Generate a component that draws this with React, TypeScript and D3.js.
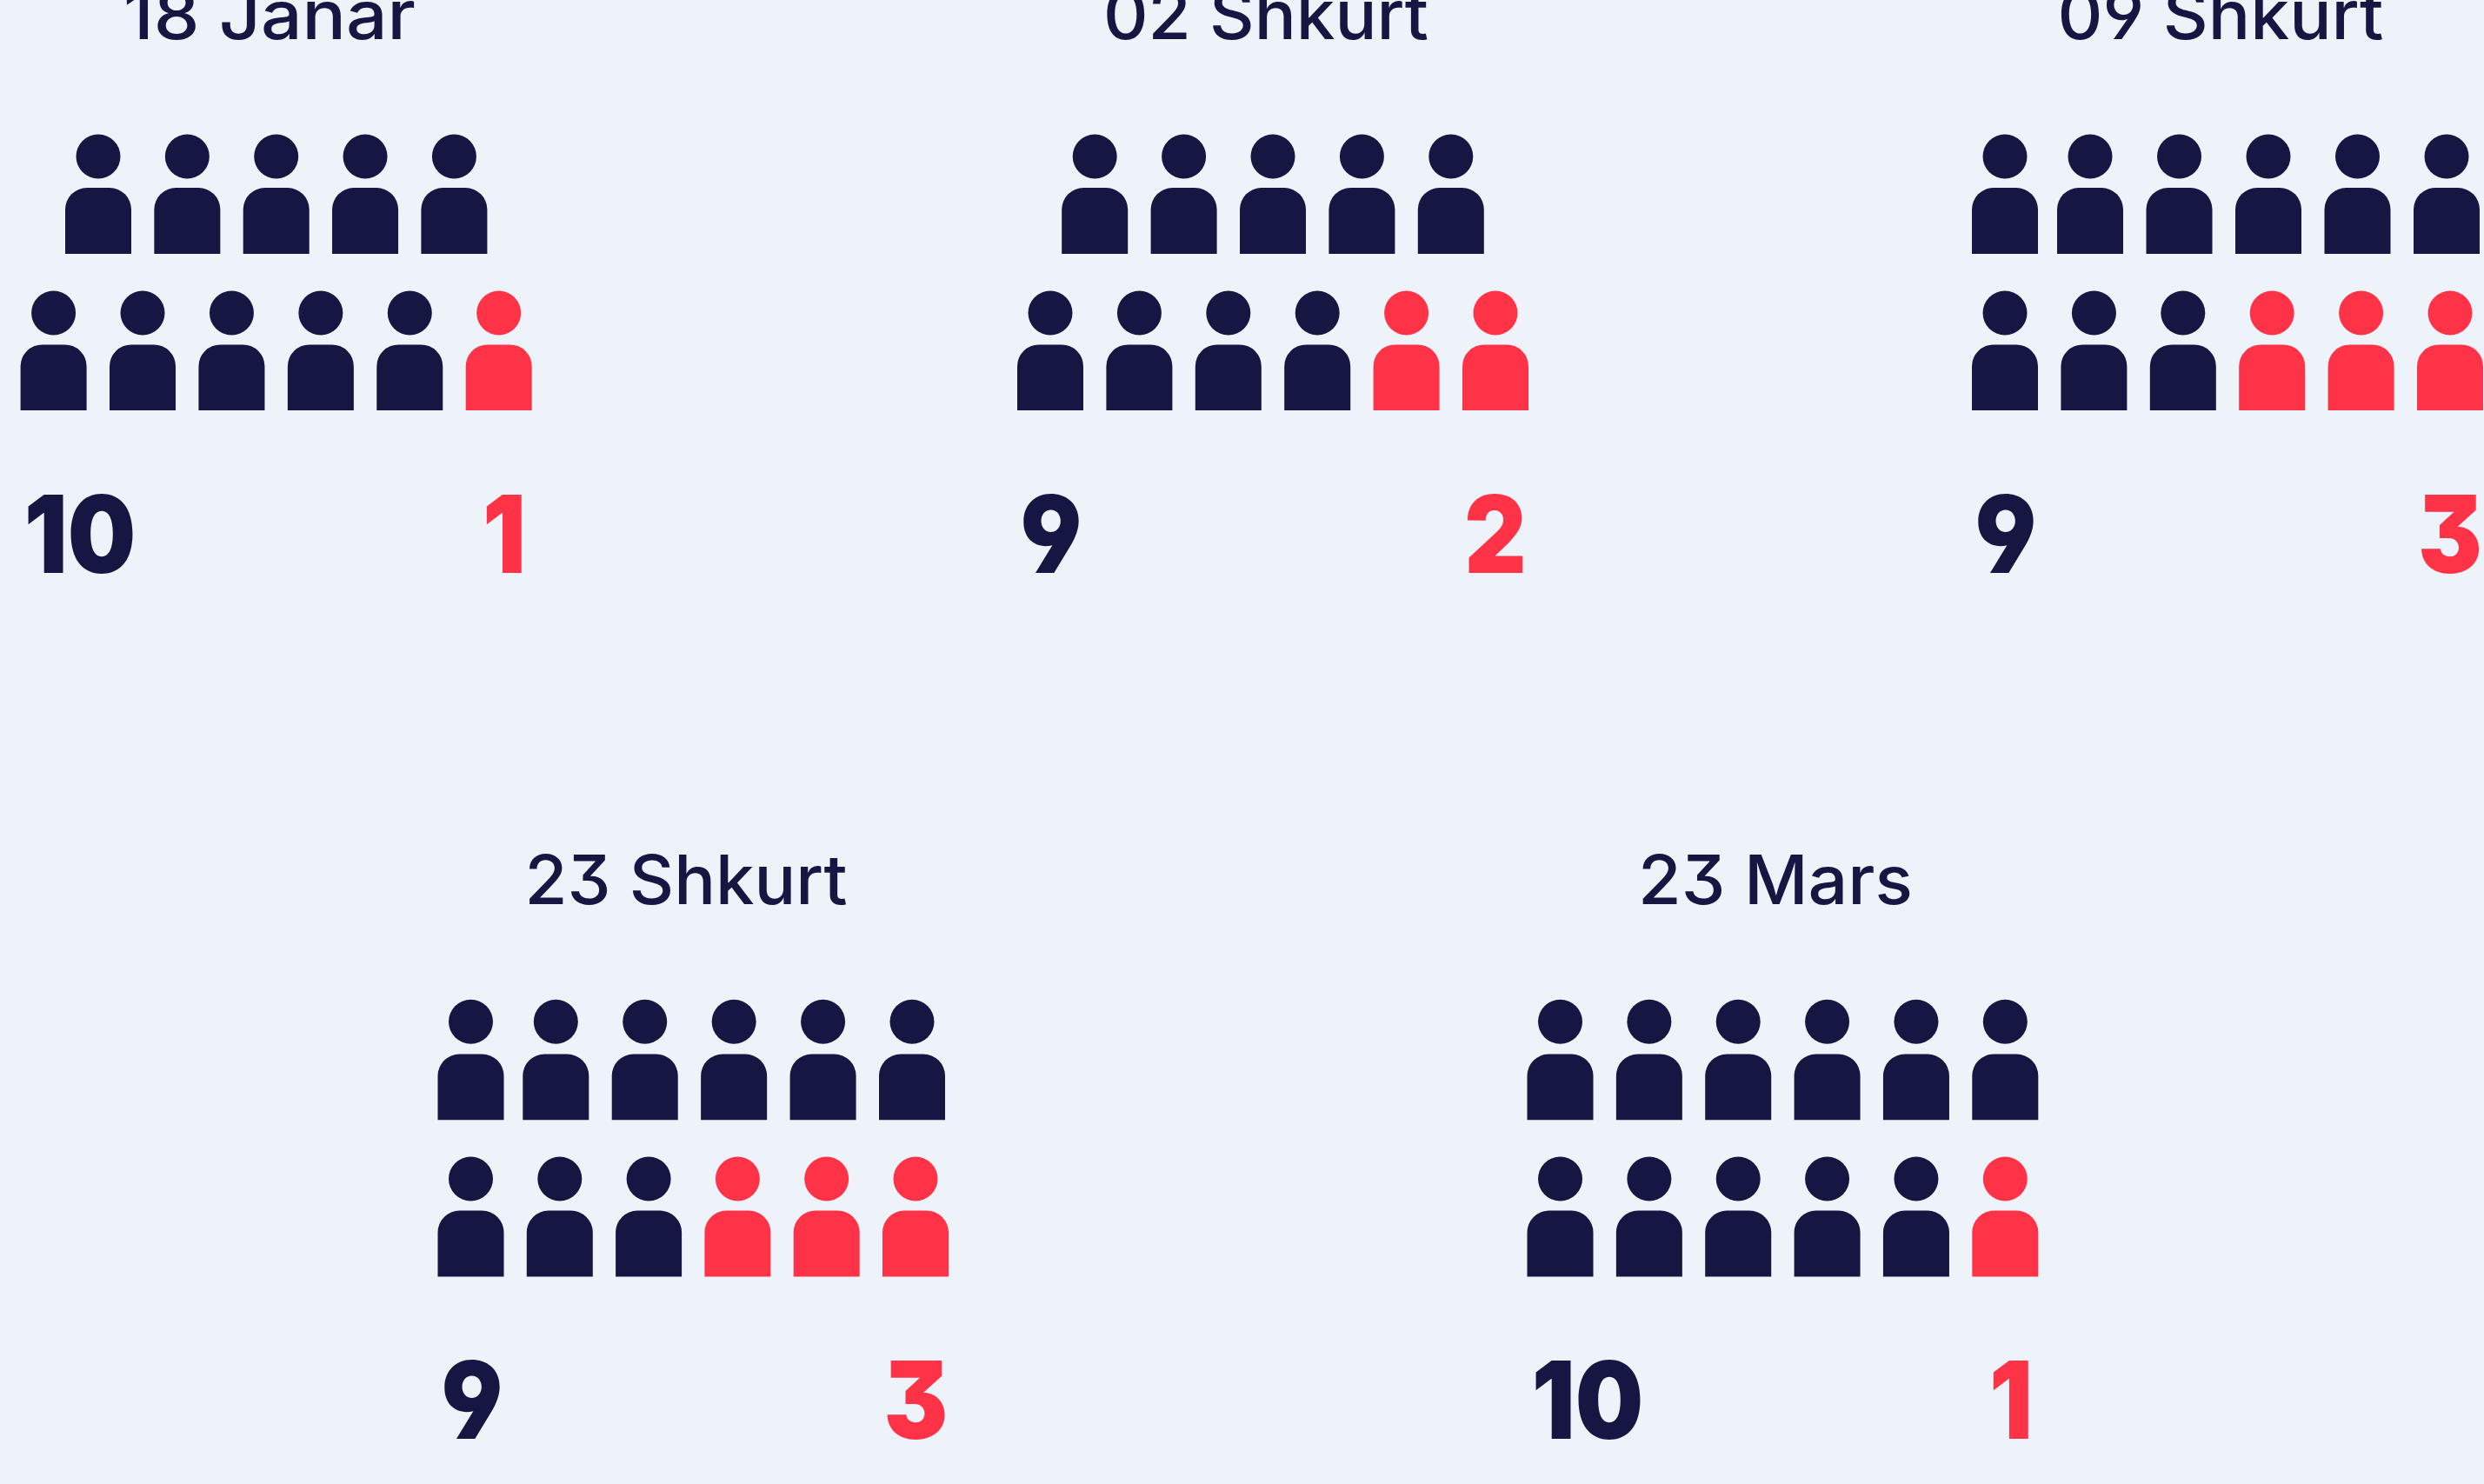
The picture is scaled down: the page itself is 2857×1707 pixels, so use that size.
import React from "react";
import * as d3 from "d3";

const titles = ["18 Janar", "02 Shkurt", "09 Shkurt", "23 Shkurt", "23 Mars"];
const labelDark = [10, 9, 9, 9, 10];
const labelRed = [1, 2, 3, 3, 1];
const iconsDark = [10, 9, 9, 9, 11];
const iconsRed = [1, 2, 3, 3, 1];
const rowSizes = [[5, 6], [5, 6], [6, 6], [6, 6], [6, 6]];

const W = 2857, H = 1707;
const BG = "#EEF3FA", DARK = "#161643", RED = "#FF3347";
const NUM_FONT = "Inter";
const FEATURES = { fontFeatureSettings: '"cv09","cv04"' };
const NUM_SQUEEZE = 0.89;

// layout geometry, separate from the data
const topBand = { baseline: 44.6, headY: [180, 360], bodyTop: [216, 396.4], bodyBottom: [292, 472], numBottom: 659 };
const lowBand = { baseline: 1039.8, headY: [1175.3, 1356], bodyTop: [1212.5, 1392.6], bodyBottom: [1288.3, 1468.4], numBottom: 1655 };
const layouts = [
  { ...topBand, titleX: 310, titleW: 336, rows: [{ d: [0, 4], r: [113, 522.4] }, { d: [0, 5], r: [61.6, 573.7] }], numLcx: 92, numRcx: 580 },
  { ...topBand, titleX: 1456, titleW: 374, rows: [{ d: [0, 4], r: [1259.2, 1668.8] }, { d: [0, 5], r: [1208, 1720] }], numLcx: 1209, numRcx: 1720 },
  { ...topBand, titleX: 2554, titleW: 375, rows: [{ d: [0, 1, 5], r: [2306, 2404, 2814] }, { d: [0, 5], r: [2306, 2818] }], numLcx: 2307, numRcx: 2818 },
  { ...lowBand, titleX: 789, titleW: 371, rows: [{ d: [0, 1, 5], r: [541.5, 639.3, 1049] }, { d: [0, 5], r: [541.5, 1053] }], numLcx: 543, numRcx: 1053.5 },
  { ...lowBand, titleX: 2042, titleW: 316, rows: [{ d: [0, 5], r: [1794.5, 2306.3] }, { d: [0, 5], r: [1794.5, 2306.3] }], numLcx: 1826, numRcx: 2313 },
];

const HEAD_R = 25.5, BODY_W = 76, BODY_R = 25;

function bodyPath(cx: number, top: number, bottom: number) {
  const p = d3.path();
  const l = cx - BODY_W / 2, r = cx + BODY_W / 2;
  p.moveTo(l, bottom);
  p.lineTo(l, top + BODY_R);
  p.arcTo(l, top, l + BODY_R, top, BODY_R);
  p.lineTo(r - BODY_R, top);
  p.arcTo(r, top, r, top + BODY_R, BODY_R);
  p.lineTo(r, bottom);
  p.closePath();
  return p.toString();
}

function Num({ x, y, fill, value }: { x: number; y: number; fill: string; value: number }) {
  return (
    <text transform={`translate(${x},${y}) scale(${NUM_SQUEEZE},1)`} textAnchor="middle"
      fontFamily={NUM_FONT} fontWeight={900} fontSize={124} fill={fill} style={FEATURES}>{value}</text>
  );
}

function Panel({ i }: { i: number }) {
  const lay = layouts[i];
  const color = d3.scaleThreshold<number, string>().domain([iconsDark[i]]).range([DARK, RED]);
  const people: React.ReactNode[] = [];
  let n = 0;
  rowSizes[i].forEach((size, row) => {
    const x = d3.scaleLinear().domain(lay.rows[row].d).range(lay.rows[row].r);
    d3.range(size).forEach((c) => {
      const fill = color(n);
      people.push(
        <g key={n} fill={fill}>
          <circle cx={x(c)} cy={lay.headY[row]} r={HEAD_R} />
          <path d={bodyPath(x(c), lay.bodyTop[row], lay.bodyBottom[row])} />
        </g>
      );
      n++;
    });
  });
  return (
    <g>
      <text x={lay.titleX} y={lay.baseline} textAnchor="middle" fontFamily="Inter" fontWeight={500} fontSize={78}
        fill={DARK} textLength={lay.titleW} lengthAdjust="spacingAndGlyphs" style={FEATURES}>{titles[i]}</text>
      {people}
      <Num x={lay.numLcx} y={lay.numBottom} fill={DARK} value={labelDark[i]} />
      <Num x={lay.numRcx} y={lay.numBottom} fill={RED} value={labelRed[i]} />
    </g>
  );
}

export default function App() {
  return (
    <svg width={W} height={H} viewBox={`0 0 ${W} ${H}`}
      style={{ position: "fixed", left: 0, top: 0, display: "block", background: BG }}>
      <rect width={W} height={H} fill={BG} />
      {titles.map((_, i) => <Panel key={i} i={i} />)}
    </svg>
  );
}
